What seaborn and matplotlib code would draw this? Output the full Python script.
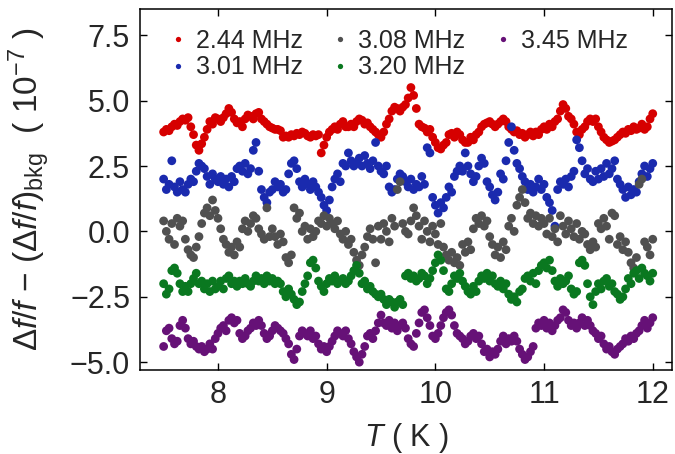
import numpy as np
import pandas as pd
import matplotlib
matplotlib.use('Agg')
import matplotlib.pyplot as plt
import seaborn as sns

# Values, one every 0.025 K from 7.5 K to 12 K (181 per series).
# Each line is 0.5 K worth of points.
f_244 = [3.8, 3.9, 3.85, 4.0, 4.1, 4.05, 4.2, 4.3, 4.25, 4.35, 4.0, 3.7, 3.3, 3.1, 3.35, 3.6, 3.9, 4.2, 4.1, 4.35,
         4.3, 4.2, 4.35, 4.5, 4.7, 4.55, 4.3, 4.15, 4.2, 4.0, 4.3, 4.45, 4.4, 4.3, 4.5, 4.55, 4.3, 4.2, 4.1, 4.0,
         3.95, 3.9, 3.9, 3.85, 3.6, 3.65, 3.6, 3.7, 3.65, 3.75, 3.7, 3.8, 3.75, 3.65, 3.6, 3.7, 3.65, 3.7, 3.0, 3.3,
         3.6, 3.8, 3.9, 4.0, 3.9, 4.1, 4.2, 4.0, 4.0, 4.1, 4.0, 4.2, 4.3, 4.25, 4.1, 4.15, 4.0, 3.9, 3.8, 3.7,
         3.6, 3.8, 4.1, 4.3, 4.6, 4.75, 4.7, 4.6, 4.75, 4.85, 5.1, 5.5, 5.2, 4.7, 4.1, 4.0, 3.95, 3.8, 3.9, 3.6,
         3.4, 3.2, 3.15, 3.3, 3.4, 3.7, 3.75, 3.6, 3.8, 3.7, 3.5, 3.4, 3.4, 3.6, 3.5, 3.7, 3.8, 4.0, 4.1, 4.15,
         4.2, 4.1, 4.0, 4.1, 4.2, 4.3, 4.2, 4.0, 3.9, 3.8, 3.85, 3.7, 3.75, 3.6, 3.7, 3.8, 3.65, 3.8, 3.7, 3.9,
         4.0, 3.9, 4.1, 4.0, 4.2, 4.3, 4.6, 4.85, 4.7, 4.4, 4.3, 4.1, 3.8, 3.7, 3.9, 4.0, 4.2, 4.3, 4.2, 4.3,
         4.0, 3.8, 3.6, 3.5, 3.4, 3.45, 3.5, 3.6, 3.7, 3.8, 3.75, 3.9, 3.85, 4.0, 3.9, 3.95, 4.1, 3.9, 4.0, 4.3,
         4.5]
f_301 = [2.0, 1.6, 1.8, 2.7, 1.7, 1.5, 1.9, 1.6, 1.5, 1.8, 2.0, 1.9, 2.3, 2.6, 2.5, 2.4, 2.1, 1.8, 2.2, 2.0,
         1.9, 2.1, 1.8, 2.0, 1.7, 2.1, 1.9, 2.4, 2.5, 2.3, 2.6, 2.2, 2.4, 3.1, 3.4, 2.3, 1.6, 1.3, 1.1, 1.5,
         1.6, 1.9, 1.7, 1.8, 1.5, 1.6, 2.2, 2.6, 2.7, 2.4, 1.9, 1.7, 2.0, 1.8, 1.6, 1.9, 1.7, 1.5, 1.3, 1.0,
         0.8, 1.2, 1.7, 2.0, 2.2, 1.9, 2.6, 2.5, 3.0, 2.7, 2.5, 2.6, 2.8, 2.5, 2.9, 2.6, 2.4, 2.7, 3.4, 2.5,
         2.3, 2.2, 2.5, 1.7, 1.5, 1.6, 2.0, 2.2, 2.1, 1.9, 1.7, 2.0, 1.6, 1.8, 1.7, 2.1, 1.8, 3.2, 3.0, 1.3,
         1.0, 0.7, 1.1, 0.9, 1.3, 1.7, 1.5, 2.1, 2.3, 2.5, 2.3, 3.0, 2.5, 2.2, 1.9, 2.1, 2.5, 2.8, 2.6, 1.9,
         1.7, 1.4, 1.2, 1.5, 2.2, 2.0, 2.7, 3.4, 4.0, 3.1, 2.6, 2.4, 2.1, 1.9, 1.6, 1.8, 1.5, 1.7, 2.0, 1.6,
         1.8, 1.3, 1.1, 0.8, 0.2, 1.6, 1.9, 1.8, 2.0, 1.7, 2.1, 2.3, 3.5, 3.2, 2.7, 2.2, 2.4, 2.0, 1.9, 2.3,
         2.0, 2.4, 2.1, 2.6, 2.2, 2.4, 2.7, 2.0, 1.8, 1.6, 1.3, 1.7, 1.4, 1.6, 1.5, 1.9, 2.2, 2.5, 2.1, 2.4,
         2.6]
f_308 = [0.4, 0.0, -0.3, 0.3, -0.5, 0.5, 0.2, 0.4, -0.3, -0.7, -0.9, -1.0, -0.6, -0.2, 0.3, 0.7, 0.9, 0.6, 1.2, 0.8,
         0.5, 0.1, -0.3, -0.5, -0.8, -0.6, -0.9, -0.4, -0.6, 0.1, 0.4, 0.0, 0.3, 0.6, 0.5, 0.1, -0.1, -0.3, 0.9, -0.2,
         0.1, -0.2, -0.5, -0.1, -0.4, -1.0, -1.2, -0.9, 0.9, 0.5, 0.7, 0.0, 0.2, -0.3, 0.1, -0.2, 0.0, 0.4, 0.3, 0.6,
         0.2, 0.5, 0.3, 0.1, 0.4, -0.1, -0.3, 0.0, -0.5, -0.3, -0.8, -1.1, -1.3, -0.9, -0.6, -0.2, 0.1, -0.3, -1.2, 0.2,
         -0.3, 0.3, 0.0, -0.4, 0.5, 0.2, 1.6, 1.9, 0.3, 0.0, -0.1, 0.4, 0.9, 0.6, 0.2, -0.3, 0.4, 0.0, -0.4, 0.2,
         -0.1, -0.5, 0.3, -0.6, -0.9, -1.1, -0.8, -1.2, -1.0, -1.3, -0.5, -0.8, -0.4, -0.7, 0.1, 0.5, 0.3, 0.6, 0.2, 0.4,
         -0.2, -0.5, -0.9, -0.6, -1.0, -0.4, -0.7, 0.2, 0.5, 0.0, 1.0, 1.3, 1.6, 1.1, 0.5, 0.7, 0.3, 0.6, 0.2, 0.5,
         0.3, -0.1, 0.5, -0.2, 0.1, -0.4, 0.6, 0.2, -0.1, 0.4, 0.1, -0.2, 0.3, -0.3, 0.0, -0.1, -0.5, -0.7, -0.4, -0.6,
         0.3, 0.1, 0.5, 0.2, -0.3, 0.7, 0.6, -0.5, -0.2, -0.7, -0.4, -0.8, -1.2, -1.4, -1.0, 1.8, 2.0, -0.4, -0.6, -0.9,
         -0.3]
f_320 = [-2.0, -2.4, -2.2, -1.5, -1.4, -1.6, -2.0, -2.3, -2.1, -2.3, -2.0, -1.8, -1.6, -2.0, -1.9, -2.2, -2.0, -2.3, -1.9, -2.2,
         -2.1, -1.9, -2.2, -1.8, -1.7, -2.0, -1.9, -2.1, -1.9, -2.0, -1.8, -2.0, -2.1, -1.9, -1.7, -1.9, -1.8, -2.0, -1.7, -1.9,
         -1.8, -2.0, -1.9, -2.0, -2.3, -2.5, -2.2, -2.4, -2.6, -2.8, -2.7, -2.3, -2.0, -1.7, -1.2, -1.1, -1.4, -1.9, -2.1, -2.3,
         -2.0, -1.8, -1.9, -1.7, -2.0, -1.9, -1.8, -2.0, -1.9, -1.7, -1.5, -1.3, -1.6, -2.0, -1.9, -2.2, -2.1, -2.3, -2.4, -2.5,
         -2.4, -2.6, -2.8, -2.6, -2.7, -2.9, -2.7, -2.6, -2.8, -1.7, -1.6, -1.8, -1.7, -1.9, -1.8, -1.6, -1.7, -2.0, -1.8, -1.5,
         -1.2, -0.9, -1.1, -1.5, -2.2, -2.3, -2.0, -1.7, -1.8, -1.6, -1.9, -2.1, -2.3, -2.4, -2.1, -2.3, -1.9, -1.7, -1.8, -1.6,
         -1.9, -1.7, -2.0, -2.1, -1.9, -2.2, -2.0, -2.4, -2.6, -2.5, -2.7, -2.3, -2.2, -1.8, -1.7, -1.9, -1.6, -2.0, -1.5, -1.3,
         -1.2, -1.4, -1.1, -1.5, -1.9, -2.1, -1.8, -2.0, -1.9, -1.7, -2.2, -2.4, -2.3, -1.2, -1.1, -1.3, -2.0, -2.5, -2.8, -2.3,
         -2.0, -2.2, -1.9, -1.8, -2.1, -2.0, -2.3, -2.4, -2.6, -2.5, -2.2, -1.8, -2.0, -1.6, -1.5, -1.8, -1.4, -1.6, -1.7, -1.9,
         -1.6]
f_345 = [-4.4, -3.8, -3.7, -4.1, -4.3, -4.2, -3.6, -3.4, -3.7, -4.1, -4.3, -4.2, -4.4, -4.5, -4.4, -4.6, -4.5, -4.3, -4.5, -4.1,
         -3.9, -3.7, -3.6, -3.8, -3.4, -3.3, -3.5, -3.4, -3.9, -4.1, -4.0, -3.8, -3.7, -3.5, -3.6, -3.4, -3.6, -3.9, -4.1, -4.0,
         -3.8, -3.6, -3.7, -3.8, -3.9, -4.1, -4.3, -4.7, -4.9, -4.5, -4.0, -3.8, -3.9, -4.0, -3.8, -4.1, -4.0, -4.3, -4.5, -4.4,
         -4.6, -4.4, -4.2, -4.0, -3.8, -3.9, -4.0, -3.8, -4.1, -4.3, -4.6, -4.8, -5.0, -4.7, -4.4, -4.0, -3.9, -4.1, -3.8, -3.5,
         -3.2, -3.5, -3.6, -3.4, -3.7, -3.5, -3.8, -3.6, -3.5, -3.7, -4.1, -4.3, -4.4, -3.9, -3.5, -3.1, -3.0, -3.3, -3.6, -4.0,
         -4.1, -3.9, -3.6, -3.3, -3.1, -3.0, -3.2, -3.6, -3.9, -4.0, -4.1, -4.3, -4.2, -4.0, -3.9, -4.1, -4.0, -4.3, -4.6, -4.5,
         -4.8, -4.6, -4.7, -4.5, -4.2, -4.0, -4.3, -4.1, -4.2, -4.0, -4.2, -4.5, -4.7, -4.9, -4.8, -4.6, -4.4, -3.7, -3.5, -3.6,
         -3.4, -3.7, -3.5, -3.8, -3.6, -3.4, -3.3, -3.0, -3.1, -3.4, -3.6, -3.5, -3.7, -3.5, -3.3, -3.6, -3.4, -3.6, -3.8, -3.9,
         -4.1, -4.0, -4.3, -4.5, -4.4, -4.6, -4.7, -4.5, -4.4, -4.3, -4.1, -4.2, -4.0, -4.1, -3.9, -3.8, -3.6, -3.4, -3.7, -3.5,
         -3.3]

labels = ['2.44 MHz', '3.01 MHz', '3.08 MHz', '3.20 MHz', '3.45 MHz']
colors = ['#d60000', '#1a2aae', '#505050', '#0a7820', '#661177']
yticks = [-5.0, -2.5, 0.0, 2.5, 5.0, 7.5]
ytick_labels = ['\u22125.0', '\u22122.5', '0.0', '2.5', '5.0', '7.5']
xticks = [8, 9, 10, 11, 12]

frames = []
for vals, lab in zip([f_244, f_301, f_308, f_320, f_345], labels):
    T = np.linspace(7.5, 12.0, len(vals))  # sweep grid
    frames.append(pd.DataFrame({'T': T, 'val': vals, 'freq': lab}))
df = pd.concat(frames, ignore_index=True)

sns.set_style('ticks')
plt.rcParams['font.family'] = ['Liberation Sans', 'DejaVu Sans']
plt.rcParams['mathtext.fontset'] = 'custom'
plt.rcParams['mathtext.it'] = 'Liberation Sans:italic'
plt.rcParams['mathtext.rm'] = 'Liberation Sans'
plt.rcParams['mathtext.sf'] = 'Liberation Sans'

fig = plt.figure(figsize=(6.75, 4.54), dpi=100)
ax = fig.add_axes([0.207, 0.185, 0.789, 0.795])

sns.scatterplot(data=df, x='T', y='val', hue='freq', palette=colors, s=40,
                edgecolor='none', linewidth=0, ax=ax)

ax.set_xlim(7.28, 12.18)
ax.set_ylim(-5.3, 8.5)
ax.set_xticks(xticks)
ax.set_yticks(yticks)
ax.set_yticklabels(ytick_labels)
ax.tick_params(direction='in', top=True, right=True, labelsize=22, length=5, width=1, color='black')
ax.tick_params(axis='x', pad=7)
ax.tick_params(axis='y', pad=7)
for sp in ax.spines.values():
    sp.set_linewidth(1.1)
    sp.set_color('black')

ax.set_xlabel(r'$T$ ( K )', fontsize=22)
ax.set_ylabel(r'$\Delta f/f$ $-$ $(\Delta f/f)_{\mathrm{bkg}}$  ( 10$^{-7}$ )', fontsize=24)
ax.xaxis.set_label_coords(0.5, -0.14)
ax.yaxis.set_label_coords(-0.165, 0.5)

ax.legend(loc='upper left', ncol=3, frameon=False, fontsize=18, markerscale=0.6,
          handlelength=0.6, handletextpad=0.42, columnspacing=1.2, labelspacing=0.1,
          borderpad=0, borderaxespad=0, bbox_to_anchor=(0.057, 0.945))

fig.savefig('out.png', dpi=100)
